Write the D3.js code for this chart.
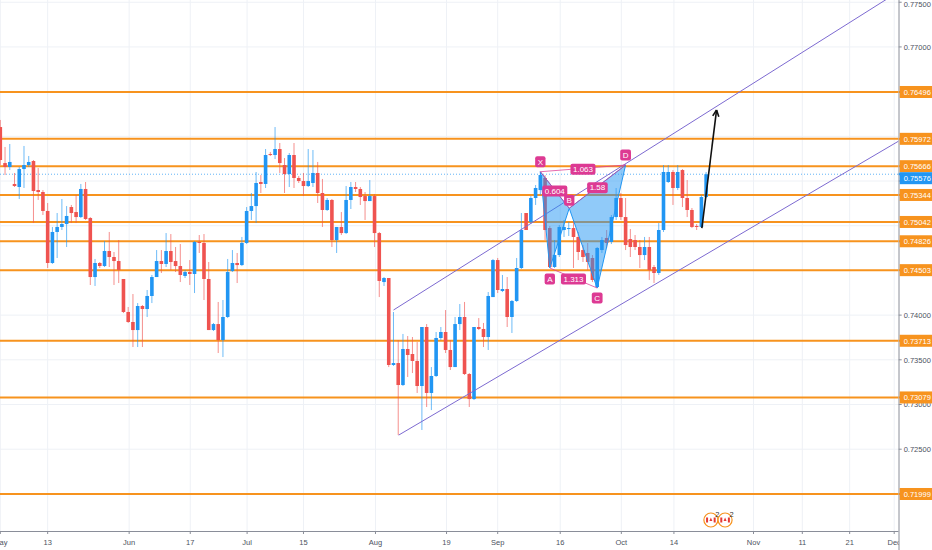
<!DOCTYPE html>
<html><head><meta charset="utf-8">
<script src="https://cdn.jsdelivr.net/npm/d3@7"></script>
<style>
html,body{margin:0;padding:0;background:#fff;}
svg{display:block;font-family:"Liberation Sans",Arial,sans-serif;}
</style>
</head><body>
<svg id="chart" width="932" height="550"></svg>
<script>
// ---------------- DATA ----------------
const opens = [0.76104,0.75701,0.75657,0.75467,0.75433,0.75634,0.75679,0.75724,0.75399,0.75377,
0.75165,0.74583,0.74930,0.74986,0.75019,0.75209,0.75153,0.75097,0.75411,0.75086,
0.74426,0.74583,0.74549,0.74717,0.74650,0.74605,0.74404,0.74035,0.73923,0.73833,
0.74102,0.74068,0.74214,0.74426,0.74605,0.74572,0.74717,0.74605,0.74549,0.74438,
0.74482,0.74460,0.74818,0.74807,0.74404,0.73833,0.73900,0.73721,0.73979,0.74493,
0.74583,0.74560,0.74807,0.75165,0.75220,0.75489,0.75467,0.75802,0.75791,0.75858,
0.75679,0.75578,0.75791,0.75534,0.75500,0.75444,0.75478,0.75590,0.75366,0.75176,
0.75288,0.74840,0.74986,0.74918,0.75288,0.75433,0.75411,0.75332,0.75276,0.75332,
0.74918,0.74370,0.74415,0.73442,0.73464,0.73218,0.73621,0.73565,0.73487,0.73207,
0.73867,0.73129,0.73319,0.73744,0.73811,0.73610,0.73419,0.73900,0.73979,0.73341,
0.73061,0.73867,0.73845,0.73755,0.74202,0.74616,0.74270,0.74292,0.73979,0.74158,
0.74527,0.75142,0.75042,0.75310,0.75399,0.75534,0.74974,0.74538,0.74672,0.74952,
0.74963,0.74974,0.74874,0.74728,0.74695,0.74639,0.74314,0.74728,0.74863,0.74818,
0.75097,0.75310,0.75097,0.74851,0.74840,0.74762,0.74672,0.74762,0.74538,0.74471,
0.74952,0.75489,0.75601,0.75422,0.75623,0.75310,0.75176,0.74997,0.74986,0.75321];
const highs = [0.76183,0.75881,0.75914,0.75590,0.75657,0.75892,0.75780,0.75735,0.75646,0.75399,
0.75254,0.74986,0.75142,0.75299,0.75220,0.75232,0.75343,0.75467,0.75489,0.75097,
0.74628,0.74594,0.74829,0.74930,0.74706,0.74840,0.74404,0.74091,0.74236,0.74135,
0.74113,0.74281,0.74449,0.74728,0.74728,0.74918,0.74907,0.74762,0.74795,0.74505,
0.74616,0.74829,0.74896,0.74907,0.74594,0.73912,0.74147,0.74169,0.74628,0.74728,
0.74695,0.74874,0.75209,0.75366,0.75601,0.75567,0.75858,0.75825,0.76104,0.75925,
0.75757,0.75813,0.75925,0.75556,0.75590,0.75858,0.75847,0.75713,0.75523,0.75310,
0.75299,0.74986,0.75153,0.75444,0.75489,0.75489,0.75433,0.75377,0.75511,0.75355,
0.74930,0.74426,0.74415,0.74035,0.73721,0.73789,0.73766,0.73755,0.73699,0.73867,
0.73900,0.73419,0.73811,0.73867,0.74057,0.73721,0.73979,0.74124,0.74147,0.73352,
0.73867,0.73967,0.73912,0.74258,0.74628,0.74639,0.74449,0.74426,0.74169,0.74639,
0.75142,0.75142,0.75332,0.75455,0.75601,0.75567,0.74997,0.74840,0.75008,0.75064,
0.75042,0.75064,0.74930,0.74784,0.74807,0.74672,0.74762,0.74874,0.74952,0.75120,
0.75422,0.75366,0.75310,0.74963,0.74896,0.74840,0.74874,0.74874,0.74560,0.75030,
0.75679,0.75679,0.75623,0.75679,0.75634,0.75511,0.75198,0.75019,0.75343,0.75601];
const lows = [0.75679,0.75567,0.75623,0.75433,0.75299,0.75422,0.75657,0.75030,0.75288,0.75120,
0.74527,0.74572,0.74639,0.74952,0.74762,0.75030,0.75030,0.75086,0.75064,0.74337,
0.74326,0.74527,0.74538,0.74538,0.74337,0.74359,0.74023,0.73912,0.73643,0.73643,
0.73643,0.73979,0.74135,0.74426,0.74471,0.74538,0.74505,0.74482,0.74370,0.74415,
0.74337,0.74247,0.74695,0.74169,0.73833,0.73822,0.73576,0.73531,0.73967,0.74482,
0.74359,0.74549,0.74795,0.75064,0.75030,0.75366,0.75422,0.75780,0.75746,0.75590,
0.75366,0.75433,0.75422,0.75478,0.75332,0.75433,0.75433,0.75254,0.74986,0.75165,
0.74762,0.74695,0.74896,0.74907,0.75187,0.75377,0.75232,0.75064,0.75276,0.74762,
0.74202,0.74326,0.73419,0.73431,0.72658,0.73207,0.73308,0.73352,0.73129,0.72715,
0.72972,0.72938,0.73308,0.73721,0.73576,0.73386,0.73419,0.73833,0.73330,0.72972,
0.73050,0.73833,0.73643,0.73610,0.74202,0.74247,0.74258,0.73867,0.73800,0.74147,
0.74516,0.74952,0.75019,0.75232,0.75343,0.74840,0.74527,0.74527,0.74650,0.74874,
0.74885,0.74527,0.74616,0.74594,0.74505,0.74370,0.74303,0.74695,0.74751,0.74795,
0.75064,0.75064,0.74728,0.74650,0.74728,0.74527,0.74616,0.74393,0.74359,0.74449,
0.74930,0.75478,0.75232,0.75399,0.75209,0.75097,0.74974,0.74952,0.74974,0.75310];
const closes = [0.75735,0.75657,0.75713,0.75444,0.75634,0.75679,0.75713,0.75388,0.75377,0.75165,
0.74583,0.74930,0.74986,0.75019,0.75109,0.75142,0.75097,0.75411,0.75075,0.74426,
0.74583,0.74549,0.74717,0.74650,0.74605,0.74505,0.74035,0.73923,0.73833,0.74102,
0.74068,0.74214,0.74426,0.74605,0.74572,0.74717,0.74594,0.74549,0.74449,0.74482,
0.74460,0.74818,0.74807,0.74404,0.73833,0.73900,0.73721,0.73979,0.74482,0.74583,
0.74560,0.74807,0.75165,0.75220,0.75478,0.75467,0.75791,0.75791,0.75858,0.75701,
0.75578,0.75791,0.75534,0.75500,0.75444,0.75500,0.75590,0.75366,0.75176,0.75288,
0.74840,0.74986,0.74918,0.75288,0.75433,0.75411,0.75321,0.75276,0.75332,0.74918,
0.74382,0.74415,0.73442,0.73464,0.73218,0.73621,0.73554,0.73487,0.73207,0.73867,
0.73129,0.73319,0.73744,0.73811,0.73610,0.73419,0.73900,0.73979,0.73341,0.73061,
0.73867,0.73845,0.73755,0.74214,0.74616,0.74281,0.74292,0.73979,0.74158,0.74527,
0.74952,0.74952,0.75310,0.75422,0.75567,0.74952,0.74538,0.74672,0.74986,0.74986,
0.74974,0.74874,0.74706,0.74650,0.74594,0.74393,0.74751,0.74840,0.74807,0.75097,
0.75310,0.75097,0.74784,0.74762,0.74762,0.74672,0.74762,0.74505,0.74471,0.74952,
0.75601,0.75601,0.75422,0.75601,0.75310,0.75176,0.74986,0.74986,0.75321,0.75576];

// horizontal support / resistance levels
const levels = [0.76496,0.75972,0.75666,0.75344,0.75042,0.74826,0.74503,0.73713,0.73079,0.71999];
const lastPrice = 0.75576;
// price axis ticks
const priceTicks = [0.775,0.770,0.765,0.760,0.755,0.750,0.745,0.740,0.735,0.730,0.725,0.720];
// time axis ticks (bar index positions)
const dateLabels = ["May","13","Jun","17","Jul","15","Aug","19","Sep","16","Oct","14","Nov","11","21","Dec"];
const dateIdx = [0,10,27.2,40.1,52.1,64,79.2,94.2,105,118.2,131.1,142.2,159,169.3,179.3,188.7];
// channel lines [idx, price]
const channelUpper = [[83,0.74057],[189.65,0.77619]];
const channelLower = [[84.1,0.72658],[189.65,0.75947]];
// XABCD pattern
const patNames = ["X","A","B","C","D"];
const patIdx = [114,116,120.1,126,132];
const patPrice = [0.75604,0.74527,0.75195,0.74303,0.75679];
const ratioLabels = ["0.604","1.313","1.58","1.063"];
const ratioPairs = [[0,2],[1,3],[2,4],[0,4]];
// projection arrow
const arrowIdx = [148.1,151.2];
const arrowPrice = [0.74974,0.76294];
// event markers
const eventIdx = [150,153];
const eventCount = ["2","2"];

// ---------------- CHART ----------------
const W = 932, H = 550, plotR = 898.7, plotB = 531;
const svg = d3.select("#chart");
const x = d3.scaleLinear().domain([0,189.65]).range([0.3, plotR]);
const y = d3.scaleLinear().domain([0.71585,0.77525]).range([plotB, 0]);

const ORANGE = "#f7931e", BLUE = "#2196f3", RED = "#ef5350", PINK = "#dd3a93", PURPLE = "#7d6ad1";

svg.append("defs").append("clipPath").attr("id","plotclip")
  .append("rect").attr("x",0).attr("y",0).attr("width",plotR).attr("height",plotB);

// grid
const grid = svg.append("g");
grid.selectAll("line.h").data(priceTicks).join("line")
  .attr("x1",0).attr("x2",plotR).attr("y1",d=>y(d)).attr("y2",d=>y(d))
  .attr("stroke","#eef1f6").attr("stroke-width",1);
grid.selectAll("line.v").data(dateIdx).join("line")
  .attr("x1",d=>x(d)).attr("x2",d=>x(d)).attr("y1",0).attr("y2",plotB)
  .attr("stroke","#eef1f6").attr("stroke-width",1);

const plot = svg.append("g").attr("clip-path","url(#plotclip)");

// levels
plot.selectAll("line.lvl").data(levels).join("line")
  .attr("x1",0).attr("x2",plotR).attr("y1",d=>y(d)).attr("y2",d=>y(d))
  .attr("stroke",ORANGE).attr("stroke-width",2);
// last price dotted line
plot.append("line").attr("x1",0).attr("x2",plotR)
  .attr("y1",y(lastPrice)).attr("y2",y(lastPrice))
  .attr("stroke",BLUE).attr("stroke-opacity",0.7).attr("stroke-width",1).attr("stroke-dasharray","1,2");

// candles
const idx = d3.range(opens.length);
const bw = 3.6;
const col = i => closes[i] >= opens[i] ? BLUE : RED;
plot.selectAll("line.wick").data(idx).join("line")
  .attr("x1",i=>x(i)).attr("x2",i=>x(i))
  .attr("y1",i=>y(highs[i])).attr("y2",i=>y(lows[i]))
  .attr("stroke",col).attr("stroke-opacity",0.65).attr("stroke-width",1);
plot.selectAll("rect.body").data(idx).join("rect")
  .attr("x",i=>x(i)-bw/2).attr("width",bw)
  .attr("y",i=>y(Math.max(opens[i],closes[i])))
  .attr("height",i=>Math.max(1,y(Math.min(opens[i],closes[i]))-y(Math.max(opens[i],closes[i]))))
  .attr("fill",col);

// channel
const line = d3.line().x(d=>x(d[0])).y(d=>y(d[1]));
[channelUpper, channelLower].forEach(c=>{
  plot.append("path").attr("d",line(c)).attr("fill","none")
    .attr("stroke",PURPLE).attr("stroke-width",1);
});

// XABCD pattern
const P = i => [x(patIdx[i]), y(patPrice[i])];
const tri = (a,b,c)=>`M${P(a)}L${P(b)}L${P(c)}Z`;
plot.append("path").attr("d",tri(0,1,2)).attr("fill",BLUE).attr("fill-opacity",0.5)
  .attr("stroke",BLUE).attr("stroke-width",1);
plot.append("path").attr("d",tri(2,3,4)).attr("fill",BLUE).attr("fill-opacity",0.5)
  .attr("stroke",BLUE).attr("stroke-width",1);
ratioPairs.forEach(p=>{
  plot.append("line").attr("x1",P(p[0])[0]).attr("y1",P(p[0])[1])
    .attr("x2",P(p[1])[0]).attr("y2",P(p[1])[1])
    .attr("stroke",PINK).attr("stroke-opacity",0.75).attr("stroke-width",1);
});
const lab = svg.append("g");
function box(cx, cy, text, minW){
  const t = lab.append("text").attr("x",cx).attr("y",cy+2.8).attr("text-anchor","middle")
    .attr("font-size",8).attr("fill","#fff").text(text);
  const w = Math.max(minW, t.node().getComputedTextLength()+5);
  lab.insert("rect","text:last-child").attr("x",cx-w/2).attr("y",cy-5.5).attr("width",w).attr("height",11)
    .attr("rx",2).attr("fill",PINK);
  t.raise();
}
ratioPairs.forEach((p,k)=>{
  const a=P(p[0]), b=P(p[1]);
  box((a[0]+b[0])/2, (a[1]+b[1])/2+1, ratioLabels[k], 14);
});
const offs = [-10,11,-8,10,-10];
patNames.forEach((n,i)=>{ box(P(i)[0], P(i)[1]+offs[i], n, 9); });

// arrow
const ax0 = x(arrowIdx[0]), ay0 = y(arrowPrice[0]), ax1 = x(arrowIdx[1]), ay1 = y(arrowPrice[1]);
svg.append("line").attr("x1",ax0).attr("y1",ay0).attr("x2",ax1).attr("y2",ay1)
  .attr("stroke","#111").attr("stroke-width",1.6);
const ang = Math.atan2(ay1-ay0, ax1-ax0), hl = 7;
[ang+Math.PI-0.45, ang+Math.PI+0.45].forEach(a=>{
  svg.append("line").attr("x1",ax1).attr("y1",ay1)
    .attr("x2",ax1+hl*Math.cos(a)).attr("y2",ay1+hl*Math.sin(a))
    .attr("stroke","#111").attr("stroke-width",1.6);
});

// event markers
eventIdx.forEach((e,k)=>{
  const cx = x(e), cy = 520;
  const g = svg.append("g");
  g.append("circle").attr("cx",cx).attr("cy",cy).attr("r",7).attr("fill","#fff")
    .attr("stroke",ORANGE).attr("stroke-width",1.2);
  g.append("rect").attr("x",cx-4.8).attr("y",cy-2.5).attr("width",2).attr("height",5).attr("fill","#e53935");
  g.append("rect").attr("x",cx+2.8).attr("y",cy-2.5).attr("width",2).attr("height",5).attr("fill","#e53935");
  g.append("path").attr("d",`M${cx},${cy-2.5}L${cx+1.5},${cy+1}L${cx-1.5},${cy+1}Z`).attr("fill","#e53935");
  g.append("text").attr("x",cx+4.5).attr("y",cy-3.5).attr("font-size",7.5).attr("fill","#333").text(eventCount[k]);
});

// bottom axis
svg.append("line").attr("x1",0).attr("x2",plotR).attr("y1",plotB+0.5).attr("y2",plotB+0.5)
  .attr("stroke","#8a8e99").attr("stroke-width",1);
svg.selectAll("line.dt").data(dateIdx).join("line")
  .attr("x1",d=>x(d)).attr("x2",d=>x(d)).attr("y1",plotB).attr("y2",plotB+3)
  .attr("stroke","#8a8e99");
svg.selectAll("text.dl").data(dateLabels).join("text")
  .attr("x",(d,i)=>x(dateIdx[i])).attr("y",plotB+13.5).attr("text-anchor","middle")
  .attr("font-size",7.5).attr("fill","#4c525e").text(d=>d);

// price axis panel
svg.append("rect").attr("x",plotR).attr("y",0).attr("width",W-plotR).attr("height",H).attr("fill","#fff");
svg.append("line").attr("x1",plotR+0.3).attr("x2",plotR+0.3).attr("y1",0).attr("y2",H)
  .attr("stroke","#8a8e99").attr("stroke-width",1);

// price labels with collision handling
const fmt = d3.format(".5f");
let marks = levels.map(v=>({v, c:ORANGE})).concat([{v:lastPrice, c:BLUE}]);
marks.forEach(m=>m.y=y(m.v));
marks.sort((a,b)=>a.y-b.y);
for(let i=1;i<marks.length;i++){ if(marks[i].y < marks[i-1].y+12) marks[i].y = marks[i-1].y+12; }
const visTicks = priceTicks.filter(t=>marks.every(m=>Math.abs(y(m.v)-y(t))>6));
svg.selectAll("line.pt").data(visTicks).join("line")
  .attr("x1",plotR).attr("x2",plotR+3).attr("y1",d=>y(d)).attr("y2",d=>y(d)).attr("stroke","#8a8e99");
svg.selectAll("text.pl").data(visTicks).join("text")
  .attr("x",plotR+5).attr("y",d=>Math.max(y(d),4)+2.7).attr("font-size",7.5).attr("fill","#4c525e").text(d=>fmt(d));
marks.forEach(m=>{
  svg.append("line").attr("x1",plotR).attr("x2",plotR+4).attr("y1",y(m.v)).attr("y2",y(m.v))
    .attr("stroke",m.c).attr("stroke-width",2);
  svg.append("rect").attr("x",plotR+1).attr("y",m.y-6).attr("width",W-plotR-1).attr("height",12).attr("fill",m.c);
  svg.append("text").attr("x",plotR+5).attr("y",m.y+2.8).attr("font-size",7.5).attr("fill","#fff").text(fmt(m.v));
});
</script>
</body></html>
